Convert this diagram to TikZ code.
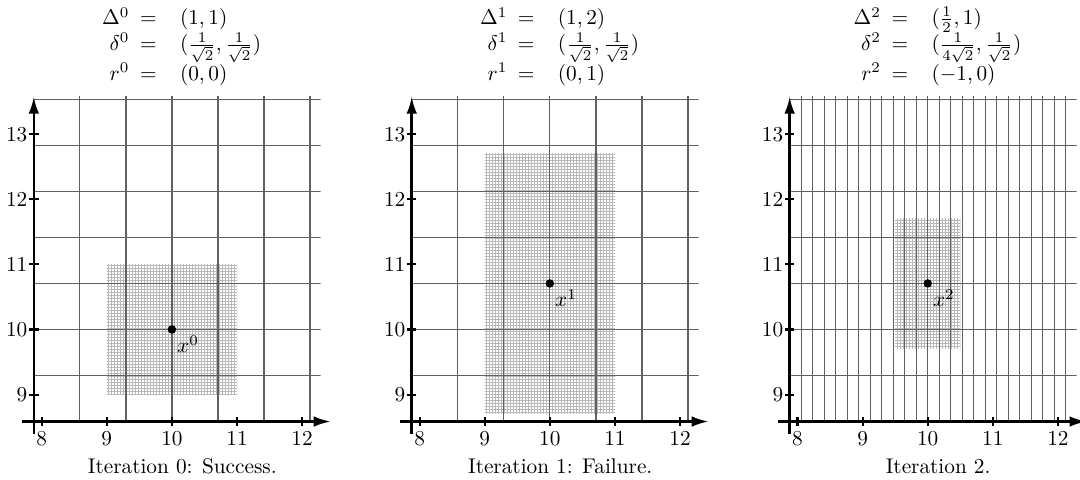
\documentclass[tikz,border=0pt]{standalone}
\usetikzlibrary{arrows.meta,patterns}
\pgfdeclarepatternformonly{finemesh}{\pgfqpoint{0pt}{0pt}}{\pgfqpoint{1.4pt}{1.4pt}}{\pgfqpoint{1.4pt}{1.4pt}}{%
  \pgfsetlinewidth{0.4pt}%
  \pgfpathmoveto{\pgfqpoint{0pt}{0.7pt}}\pgfpathlineto{\pgfqpoint{1.4pt}{0.7pt}}%
  \pgfpathmoveto{\pgfqpoint{0.7pt}{0pt}}\pgfpathlineto{\pgfqpoint{0.7pt}{1.4pt}}%
  \pgfusepath{stroke}}
\tikzset{
  gridline/.style={draw=black!62, line width=0.6pt},
  axisline/.style={line width=1.2pt, -{Latex[length=8pt,width=5pt]}},
  tickmark/.style={line width=1pt},
  shaderegion/.style={pattern=finemesh, pattern color=black!28},
  xticklab/.style={anchor=north, yshift=-1.2pt},
  yticklab/.style={anchor=east, xshift=0.5pt},
  iterdot/.style={circle, fill=black, inner sep=0pt, minimum size=4pt},
  ptlabel/.style={anchor=north west, inner sep=1pt, xshift=1.3pt, yshift=-1.7pt},
  captiontext/.style={anchor=base},
  infotext/.style={anchor=base}
}
% #1 index, #2 shift, #3 dx, #4 shade lower-left, #5 shade upper-right, #6 dot y, #7 rows, #8 caption
\newcommand\drawpanel[8]{%
\begin{scope}[shift={(#2,0)}]
  \fill[shaderegion] #4 rectangle #5;
  \begin{scope}
    \clip (7.879,8.586) rectangle (12.286,13.576);
    \foreach \k in {-13,...,13} \draw[gridline] ({10+\k*#3},8.5) -- ({10+\k*#3},13.7);
    \foreach \k in {-2,...,5} \draw[gridline] (7.8,{10+\k*0.70711}) -- (12.4,{10+\k*0.70711});
  \end{scope}
  \coordinate (xs#1) at (7.697,8.586);
  \coordinate (xe#1) at (12.44,8.586);
  \coordinate (ys#1) at (7.879,8.395);
  \coordinate (ye#1) at (7.879,13.576);
  \draw[axisline] (xs#1) -- (xe#1);
  \draw[axisline] (ys#1) -- (ye#1);
  \foreach \t in {8,...,12} {
    \draw[tickmark] (\t,8.586) ++(0,-2.2pt) -- ++(0,4.4pt);
    \node[xticklab] (xt#1-\t) at (\t,8.586) {\t};
  }
  \foreach \t in {9,...,13} {
    \draw[tickmark] (7.879,\t) ++(-2.2pt,0) -- ++(4.4pt,0);
    \node[yticklab] (yt#1-\t) at (7.879,\t) {\t};
  }
  \node[iterdot] (x#1) at (10,#6) {};
  \node[ptlabel] (xl#1) at (x#1.center) {$x^{#1}$};
  \node[infotext] (f#1) at (10.15,14.677) {$\begin{array}[t]{r@{\hspace{5pt}}c@{\hspace{11pt}}l} #7 \end{array}$};
  \node[captiontext] (c#1) at (10.16,7.791) {#8};
\end{scope}}
\begin{document}
\begin{tikzpicture}[x=1.075cm,y=1.075cm]
\useasboundingbox (7.3595,7.703) rectangle (23.949,15.061);
\drawpanel{0}{0}{0.70711}{(9,9)}{(11,11)}{10}{\Delta^0 & = & (1,1)\\ \delta^0 & = & (\frac{1}{\sqrt{2}},\frac{1}{\sqrt{2}})\\ r^0 & = & (0,0)}{Iteration 0: Success.}
\drawpanel{1}{5.805}{0.70711}{(9,8.7071)}{(11,12.7071)}{10.7071}{\Delta^1 & = & (1,2)\\ \delta^1 & = & (\frac{1}{\sqrt{2}},\frac{1}{\sqrt{2}})\\ r^1 & = & (0,1)}{Iteration 1: Failure.}
\drawpanel{2}{11.61}{0.176777}{(9.5,9.7071)}{(10.5,11.7071)}{10.7071}{\Delta^2 & = & (\frac{1}{2},1)\\ \delta^2 & = & (\frac{1}{4\sqrt{2}},\frac{1}{\sqrt{2}})\\ r^2 & = & (-1,0)}{Iteration 2.}
\end{tikzpicture}
\end{document}
